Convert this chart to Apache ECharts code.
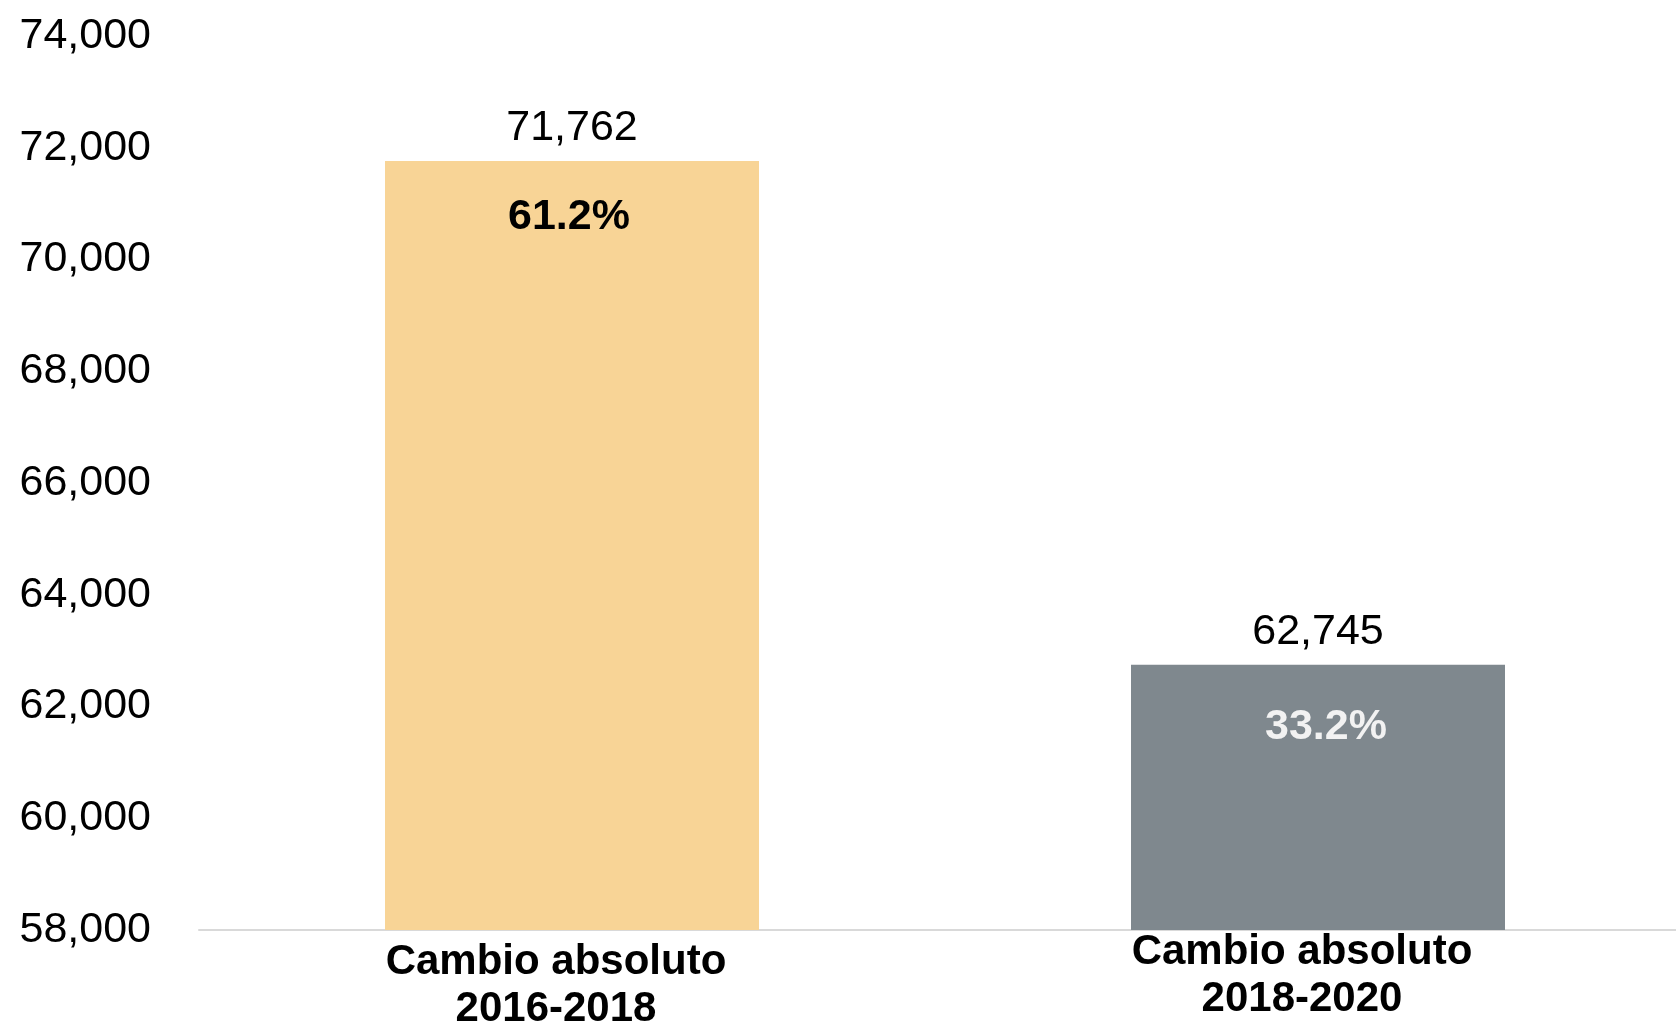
<!DOCTYPE html>
<html>
<head>
<meta charset="utf-8">
<style>
  html, body { margin: 0; padding: 0; background: #ffffff; overflow: hidden; width: 1676px; height: 1027px; }
  #chart { width: 1691px; height: 1027px; }
</style>
<script src="https://cdn.jsdelivr.net/npm/echarts@6/dist/echarts.min.js"></script>
</head>
<body>
<div id="chart"></div>
<script>
const categories = ['Cambio absoluto\n2016-2018', 'Cambio absoluto\n2018-2020'];
const values = [71762, 62745];
const shares = ['61.2%', '33.2%'];
const barColors = ['#F8D496', '#7F888E'];
const shareColors = ['#000000', '#F2F2F2'];
const yTicks = { min: 58000, max: 74000, interval: 2000 };

const FONT = '"Liberation Sans", Arial, sans-serif';
const shareDistance = [35, 41];
const shareOffset = [[-3, 0], [8, 0]];
const catPadTop = [10, 0];

const chart = echarts.init(document.getElementById('chart'), null, { renderer: 'canvas' });

const mainData = values.map((v, i) => ({
  value: v,
  itemStyle: { color: barColors[i] },
  label: { color: shareColors[i], distance: shareDistance[i], offset: shareOffset[i] }
}));

const catData = categories.map((c, i) => ({
  value: c,
  textStyle: { padding: [catPadTop[i], 32, 0, 0] }
}));

chart.setOption({
  animation: false,
  backgroundColor: '#ffffff',
  grid: { left: 199, right: 0, top: 36, bottom: 97, containLabel: false, outerBoundsMode: 'none' },
  xAxis: {
    type: 'category',
    data: catData,
    axisLine: { show: true, lineStyle: { color: '#D9D9D9', width: 2 } },
    axisTick: { show: false },
    axisLabel: {
      interval: 0,
      margin: -1,
      color: '#000000',
      fontFamily: FONT,
      fontSize: 42,
      fontWeight: 'bold',
      lineHeight: 47,
      align: 'center'
    }
  },
  yAxis: {
    type: 'value',
    min: yTicks.min,
    max: yTicks.max,
    interval: yTicks.interval,
    axisLine: { show: false },
    axisTick: { show: false },
    splitLine: { show: false },
    axisLabel: {
      margin: 48,
      color: '#000000',
      fontFamily: FONT,
      fontSize: 43,
      formatter: v => v.toLocaleString('en-US')
    }
  },
  series: [
    {
      type: 'bar',
      data: mainData,
      barWidth: 374,
      label: {
        show: true,
        position: 'insideTop',
        fontFamily: FONT,
        fontSize: 43,
        fontWeight: 'bold',
        formatter: p => shares[p.dataIndex]
      },
      z: 2
    },
    {
      type: 'bar',
      data: values,
      barWidth: 374,
      barGap: '-100%',
      itemStyle: { color: 'rgba(0,0,0,0)' },
      label: {
        show: true,
        position: 'top',
        distance: 11,
        color: '#000000',
        fontFamily: FONT,
        fontSize: 43,
        formatter: p => p.value.toLocaleString('en-US')
      },
      z: 3
    }
  ]
});
</script>
</body>
</html>
